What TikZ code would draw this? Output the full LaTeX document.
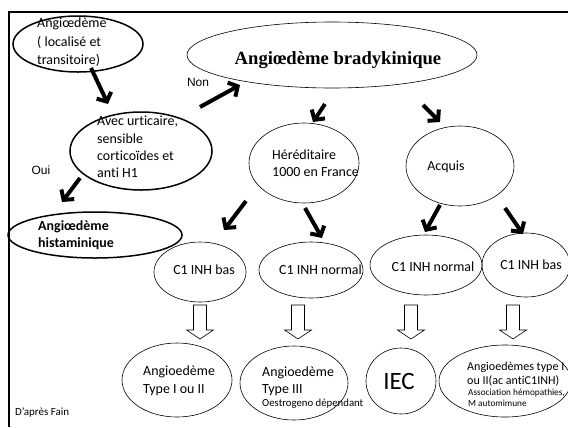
\documentclass[tikz,border=0pt]{standalone}
\usepackage{fontspec}
\setmainfont{Carlito}[Ligatures={NoCommon}]
\newfontfamily\serifbf{Liberation Serif}
\newfontfamily\arialf{Liberation Sans}
\usetikzlibrary{shapes.geometric,arrows.meta,calc}
\newcommand\hollowdown[1]{\draw[hollow] ({#1-6.5},305) -- ({#1+6.5},305) -- ({#1+6.5},330) -- ({#1+13.5},330) -- (#1,339) -- ({#1-13.5},330) -- ({#1-6.5},330) -- cycle;}
\begin{document}
\begin{tikzpicture}[x=1bp,y=-1bp,
  ell/.style n args={2}{ellipse, draw=black, line width=0.6bp, inner sep=0pt, minimum width=#1bp, minimum height=#2bp},
  thickell/.style n args={2}{ell={#1}{#2}, line width=1.5bp},
  txt/.style={inner sep=0pt, align=left, font=\fontsize{14}{18}\selectfont},
  arr/.style={line width=4bp, -{Straight Barb[length=7bp,width=16bp]}},
  hollow/.style={draw=black, line width=0.6bp, fill=white},
  lab/.style={inner sep=0pt, font=\arialf\fontsize{12}{14}\selectfont}]
\useasboundingbox (0,0) rectangle (568,427);
% frame
\draw[line width=2.5bp] (9,427) -- (9,12) -- (568,12);
% ellipses
\node[thickell={130}{56}] (e1) at (78,44) {};
\node[thickell={142}{78}] (e2) at (141,151) {};
\node[thickell={174}{46}] (e3) at (95,235) {};
\node[ell={290}{66}] (eb) at (332,55) {};
\node[ell={110}{80}] (eh) at (304,163) {};
\node[ell={108}{80}] (ea) at (460,166) {};
\node[ell={92}{60}] (c1) at (200,272) {};
\node[ell={104}{56}] (c2) at (311,270) {};
\node[ell={112}{60}] (c3) at (426,265) {};
\node[ell={88}{64}] (c4) at (526,265) {};
\node[ell={110}{74}] (b1) at (177,380) {};
\node[ell={108}{74}] (b2) at (294,383) {};
\node[ell={70}{66}] (b3) at (401,381) {};
\node[ell={132}{72}] (b4) at (505,381) {};
% texts
\node[txt, anchor=west, font=\fontsize{14}{18.5}\selectfont] (t1) at (37,42.5) {Angiœdème\\( localisé et\\transitoire)};
\node[txt, anchor=west, font=\fontsize{14}{17.3}\selectfont] (t2) at (97,147) {Avec urticaire,\\sensible\\corticoïdes et\\anti H1};
\node[txt, anchor=west, font=\bfseries\fontsize{14}{16.5}\selectfont] (t3) at (38,235) {Angiœdème\\histaminique};
\node[inner sep=0pt, font=\serifbf\bfseries\fontsize{18.7}{20}\selectfont] (tb) at (338,60) {Angiœdème bradykinique};
\node[txt, anchor=west, font=\fontsize{14}{17}\selectfont] (th) at (272,163.5) {Héréditaire\\1000 en France};
\node[txt] (ta) at (446,167) {Acquis};
\node[txt] (tc1) at (204,270) {C1 INH bas};
\node[txt, anchor=west] (tc2) at (279,270) {C1 INH normal};
\node[txt] (tc3) at (433,267) {C1 INH normal};
\node[txt] (tc4) at (531,265) {C1 INH bas};
\node[txt, anchor=west] (tb1) at (143,381) {Angioedème\\Type I ou II};
\node[txt, anchor=west, font=\fontsize{14}{17}\selectfont] (tb2) at (262,381.5) {Angioedème\\Type III};
\node[txt, anchor=west, font=\fontsize{10.8}{12}\selectfont] (tb2s) at (262,404) {Oestrogeno dépendant};
\node[txt, font=\fontsize{25}{28}\selectfont] (tb3) at (399,381) {IEC};
\node[txt, anchor=west, font=\fontsize{12.1}{14}\selectfont] (tb4) at (467,374.5) {Angioedèmes type I\\ou II(ac antiC1INH)};
\node[txt, anchor=west, font=\fontsize{9.3}{10.5}\selectfont] (tb4s) at (468,398) {Association hémopathies,\\M automimune};
\node[lab] (oui) at (41,170) {Oui};
\node[lab] (non) at (198,82) {Non};
\node[txt, anchor=west, font=\fontsize{11}{13}\selectfont] (src) at (15,413) {D’après Fain};
% thick arrows
\draw[arr] ($(e1)+(13,24)$) -- ($(e2)+(-33,-47)$);
\draw[arr] ($(e2)+(-61,27)$) -- ($(e3)+(-33,-33)$);
\draw[arr] ($(e2)+(59,-44)$) -- ($(eb)+(-92,30)$);
\draw[arr] ($(eb)+(-7,49)$) -- ($(eh)+(9,-41)$);
\draw[arr] ($(eb)+(91,50)$) -- ($(ea)+(-20,-44)$);
\draw[arr] ($(eh)+(-58,38)$) -- ($(c1)+(24,-42)$);
\draw[arr] ($(eh)+(1,45)$) -- ($(c2)+(11,-32)$);
\draw[arr] ($(ea)+(-20,39)$) -- ($(c3)+(-1,-33)$);
\draw[arr] ($(ea)+(45,42)$) -- ($(c4)+(-3,-31)$);
% hollow arrows
\hollowdown{200}
\hollowdown{298}
\hollowdown{411}
\hollowdown{513}
\end{tikzpicture}
\end{document}
